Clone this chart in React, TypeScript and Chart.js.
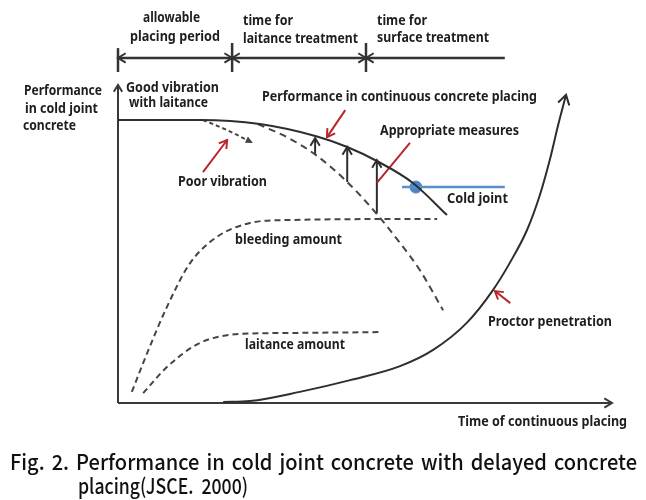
import React, { useEffect, useRef } from "react";
import { Chart, registerables } from "chart.js";
Chart.register(...registerables);

// ---- data (time 0..100, performance/amount 0..100) ----
const continuousX = [0, 16.6, 28.7, 40.3, 46.4, 52.4, 59.7, 66.6];
const continuousY = [89.0, 89.0, 87.7, 83.8, 80.5, 76.1, 69.2, 59.1];

const poorX = [17.2, 22.1, 27.3];
const poorY = [89.0, 85.8, 81.8];

const delayedX = [28.3, 34.2, 40.3, 46.4, 52.4, 57.1, 61.1, 65.8];
const delayedY = [87.7, 83.6, 77.7, 69.5, 59.4, 50.3, 41.8, 29.2];

const bleedingX = [2.8, 5.9, 9.9, 14.6, 20.0, 26.7, 33.4, 64.6];
const bleedingY = [3.5, 15.7, 30.2, 44.0, 52.2, 56.6, 57.5, 57.9];

const laitanceX = [5.1, 9.9, 16.6, 24.7, 33.4, 53.4];
const laitanceY = [3.1, 11.3, 18.9, 21.7, 22.0, 22.3];

const proctorX = [21.3, 26.7, 36.8, 47.0, 57.1, 63.8, 70.6, 75.9, 79.4, 82.8, 85.4, 87.4, 89.1, 90.7];
const proctorY = [0.3, 0.6, 3.5, 7.2, 11.6, 16.7, 25.2, 35.5, 44.3, 54.4, 65.4, 76.4, 87.4, 96.9];

const measureX = [39.9, 46.4, 52.4];
const measureFrom = [78.0, 69.5, 59.7];
const measureTo = [83.3, 80.5, 76.4];

const coldJointX = [57.5, 78.3];
const coldJointY = 67.9;
const coldJointDotX = 60.3;

const periodBounds = [0, 23.1, 50.2, 78.3];
const timelineY = 108.5;
const tickTop = [111.6, 113.2, 113.2];
const tickBottom = 104.1;

const axisMax = 100;

// red pointer lines
const pointerPerfX = [46.0, 42.3];
const pointerPerfY = [92.1, 83.6];
const pointerMeasX = [59.1, 52.4];
const pointerMeasY = [81.8, 69.2];
const pointerPoorX = [17.2, 22.1];
const pointerPoorY = [72.6, 82.7];
const pointerProcX = [79.4, 76.3];
const pointerProcY = [31.4, 35.2];

const DARK = "#2e2e2e";
const DASH = "#454545";
const RED = "#b8262b";
const BLUE = "#5a8fc9";

function pts(xs: number[], ys: number[]) {
  return xs.map((x, i) => ({ x, y: ys[i] }));
}

function ds(xs: number[], ys: number[], extra: any) {
  return {
    data: pts(xs, ys),
    borderColor: DARK,
    borderWidth: 2,
    pointRadius: 0,
    clip: false,
    fill: false,
    tension: 0,
    ...extra,
  };
}

function drawHead(ctx: CanvasRenderingContext2D, tip: any, from: any, kind: string, color: string, size: number) {
  const ang = Math.atan2(tip.y - from.y, tip.x - from.x);
  const spread = kind === "filled" ? 0.45 : 0.55;
  const ax = tip.x - size * Math.cos(ang - spread);
  const ay = tip.y - size * Math.sin(ang - spread);
  const bx = tip.x - size * Math.cos(ang + spread);
  const by = tip.y - size * Math.sin(ang + spread);
  ctx.save();
  ctx.setLineDash([]);
  ctx.strokeStyle = color;
  ctx.fillStyle = color;
  ctx.lineWidth = 2;
  ctx.lineJoin = "miter";
  ctx.beginPath();
  ctx.moveTo(ax, ay);
  ctx.lineTo(tip.x, tip.y);
  ctx.lineTo(bx, by);
  if (kind === "filled") {
    ctx.closePath();
    ctx.fill();
  } else {
    ctx.stroke();
  }
  ctx.restore();
}

const arrowPlugin = {
  id: "arrowHeads",
  afterDatasetsDraw(chart: any) {
    const ctx = chart.ctx;
    chart.data.datasets.forEach((d: any, i: number) => {
      const meta = chart.getDatasetMeta(i);
      const p = meta.data;
      if (!p || p.length < 2) return;
      const size = d.headSize || 9;
      const color = d.borderColor;
      if (d.arrowEnd) drawHead(ctx, p[p.length - 1], p[p.length - 2], d.arrowEnd, color, size);
      if (d.arrowStart) drawHead(ctx, p[0], p[1], d.arrowStart, color, size);
    });
  },
};

function fitText(ctx: CanvasRenderingContext2D, text: string, x: number, y: number, w: number) {
  const m = ctx.measureText(text).width;
  ctx.save();
  ctx.translate(x, y);
  ctx.scale(w / m, 1);
  ctx.fillText(text, 0, 0);
  ctx.restore();
}

// [text, left, centerY, width]
const labels: [string, number, number, number][] = [
  ["allowable", 143, 18, 57],
  ["placing period", 130, 37, 90],
  ["time for", 243, 21, 50],
  ["laitance treatment", 243, 39, 115],
  ["time for", 377, 21, 50],
  ["surface treatment", 377, 38, 112],
  ["Performance", 24, 91, 78],
  ["in cold joint", 25, 109, 73],
  ["concrete", 23, 126, 53],
  ["Good vibration", 126, 88, 93],
  ["with laitance", 129, 103, 79],
  ["Performance in continuous concrete placing", 262, 97, 275],
  ["Appropriate measures", 380, 131, 139],
  ["Poor vibration", 178, 182, 89],
  ["Cold joint", 447, 199, 61],
  ["bleeding amount", 235, 240, 107],
  ["laitance amount", 245, 345, 100],
  ["Proctor penetration", 488, 322, 124],
  ["Time of continuous placing", 458, 422, 169],
];

const captionLine1 = "Fig. 2. Performance in cold joint concrete with delayed concrete";
const captionLine2 = "placing(JSCE.  2000)";

const textPlugin = {
  id: "texts",
  afterDraw(chart: any) {
    const ctx: CanvasRenderingContext2D = chart.ctx;
    ctx.save();
    ctx.fillStyle = "#1e1e1e";
    ctx.textBaseline = "middle";
    ctx.textAlign = "left";
    ctx.font = "bold 13.5px 'Noto Sans'";
    labels.forEach(([t, x, y, w]) => fitText(ctx, t, x, y, w));

    // caption
    ctx.fillStyle = "#111";
    ctx.font = "500 21px 'Noto Sans CJK KR', 'Noto Sans'";
    const words = captionLine1.split(" ");
    const left = 10, right = 637;
    const ww = words.map((w) => ctx.measureText(w).width);
    const total = ww.reduce((a, b) => a + b, 0);
    const minGap = 7;
    const sc = Math.min(1, (right - left - minGap * (words.length - 1)) / total);
    const gap = (right - left - total * sc) / (words.length - 1);
    let cx = left;
    words.forEach((w, i) => {
      ctx.save();
      ctx.translate(cx, 462);
      ctx.scale(sc, 1);
      ctx.fillText(w, 0, 0);
      ctx.restore();
      cx += ww[i] * sc + gap;
    });
    const m2 = ctx.measureText(captionLine2).width;
    ctx.save();
    ctx.translate(78, 486);
    ctx.scale(Math.min(1, 170 / m2), 1);
    ctx.fillText(captionLine2, 0, 0);
    ctx.restore();
    ctx.restore();
  },
};

export default function App() {
  const ref = useRef<HTMLCanvasElement | null>(null);
  useEffect(() => {
    if (!ref.current) return;
    const datasets: any[] = [
      ds(continuousX, continuousY, { cubicInterpolationMode: "monotone" }),
      ds(poorX, poorY, { borderColor: DASH, borderDash: [4, 3], arrowEnd: "filled", headSize: 8, cubicInterpolationMode: "monotone" }),
      ds(delayedX, delayedY, { borderColor: DASH, borderDash: [7, 5], cubicInterpolationMode: "monotone" }),
      ds(bleedingX, bleedingY, { borderColor: DASH, borderDash: [6, 4], cubicInterpolationMode: "monotone" }),
      ds(laitanceX, laitanceY, { borderColor: DASH, borderDash: [6, 4], cubicInterpolationMode: "monotone" }),
      ds(proctorX, proctorY, { arrowEnd: "open", headSize: 11, cubicInterpolationMode: "monotone" }),
      ds(coldJointX, [coldJointY, coldJointY], { borderColor: BLUE, borderWidth: 2.5 }),
      {
        data: [{ x: coldJointDotX, y: coldJointY }],
        showLine: false,
        pointRadius: 6,
        pointBackgroundColor: "#4a86c5",
        pointBorderColor: "#4a86c5",
        clip: false,
      },
      ds([0, axisMax], [0, 0], { borderColor: "#3a3a3a", arrowEnd: "open", headSize: 9 }),
      ds([0, 0], [0, axisMax], { borderColor: "#3a3a3a", arrowEnd: "open", headSize: 8 }),
      ds(pointerPerfX, pointerPerfY, { borderColor: RED, arrowEnd: "open", headSize: 9 }),
      ds(pointerMeasX, pointerMeasY, { borderColor: RED }),
      ds(pointerPoorX, pointerPoorY, { borderColor: RED, arrowEnd: "open", headSize: 9 }),
      ds(pointerProcX, pointerProcY, { borderColor: RED, arrowEnd: "open", headSize: 9 }),
    ];
    measureX.forEach((x, i) => {
      datasets.push(ds([x, x], [measureFrom[i], measureTo[i]], { arrowEnd: "open", headSize: 9 }));
    });
    for (let i = 0; i < periodBounds.length - 1; i++) {
      const last = i === periodBounds.length - 2;
      datasets.push(
        ds([periodBounds[i], periodBounds[i + 1]], [timelineY, timelineY], {
          borderColor: "#333",
          borderWidth: 2.5,
          arrowStart: "open",
          arrowEnd: last ? undefined : "open",
          headSize: 9,
        })
      );
    }
    periodBounds.slice(0, 3).forEach((x, i) => {
      datasets.push(ds([x, x], [tickBottom, tickTop[i]], { borderColor: "#333", borderWidth: 2.5 }));
    });

    const chart = new Chart(ref.current, {
      type: "line",
      data: { datasets },
      options: {
        animation: false,
        responsive: false,
        events: [],
        layout: { padding: { left: 118, right: 34, top: 85, bottom: 97 } },
        plugins: { legend: { display: false }, tooltip: { enabled: false } },
        scales: {
          x: { type: "linear", min: 0, max: 100, display: false },
          y: { type: "linear", min: 0, max: 100, display: false },
        },
      },
      plugins: [arrowPlugin, textPlugin],
    });
    return () => chart.destroy();
  }, []);
  return (
    <div style={{ position: "absolute", left: 0, top: 0, width: 646, height: 500, background: "#fff" }}>
      <canvas ref={ref} width={646} height={500} />
    </div>
  );
}
